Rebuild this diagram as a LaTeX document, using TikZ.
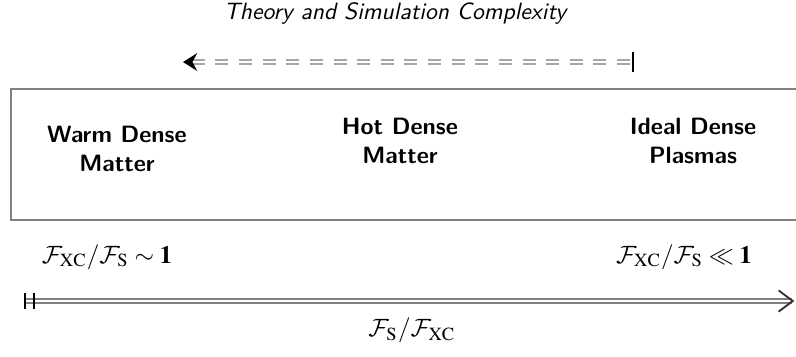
\documentclass[tikz,border=0pt]{standalone}
\usepackage{mathptmx}
\DeclareMathAlphabet{\mathcal}{OMS}{cmsy}{m}{n}
\usetikzlibrary{arrows.meta}

\begin{document}
\begin{tikzpicture}[>=stealth,
    regime/.style={font=\sffamily\bfseries, align=center},
    ratio/.style={inner sep=0pt, scale=1.06}]
    \useasboundingbox (0,0) rectangle (11.845,-5.312);

    \node [font=\sffamily\itshape] (title) at (5.878,-0.193) {Theory and Simulation Complexity};
    \coordinate (cplxlow) at (2.723,-0.923);
    \coordinate (cplxhigh) at (9.435,-0.923);
    \draw [gray!70, line width=0.8pt, double, double distance=0.9pt, dash pattern=on 5.5pt off 4.5pt,
        {Stealth[black, length=6pt, width=7.5pt, inset=2pt]}-{Bar[black, width=8.5pt]}] (cplxlow) -- (cplxhigh);

    \node [rectangle, draw=gray, line width=0.85pt, minimum width=11.73cm, minimum height=1.95cm, anchor=north west] (box) at (0.149,-1.310) {};
    \node [regime] (wdm) at (1.741,-2.217) {Warm Dense\\Matter};
    \node [regime] (hdm) at (5.952,-2.098) {Hot Dense\\Matter};
    \node [regime] (idp) at (10.313,-2.098) {Ideal Dense\\Plasmas};

    \node [ratio] (strong) at (1.592,-3.824) {$\mathcal{F}_{\mathrm{XC}}/\mathcal{F}_{\mathrm{S}} \sim \mathbf{1}$};
    \node [ratio] (weak) at (10.179,-3.824) {$\mathcal{F}_{\mathrm{XC}}/\mathcal{F}_{\mathrm{S}} \ll \mathbf{1}$};
    \coordinate (axisstart) at (0.253,-4.479);
    \coordinate (axisend) at (11.82,-4.479);
    \draw [gray, line width=0.8pt, double, double distance=0.9pt,
        {Bar[black, width=7pt, line width=0.8pt, sep=3pt]Bar[black, width=7pt, line width=0.8pt, sep=3pt]}-{Straight Barb[black!80, length=6pt, width=9pt]}] (axisstart) -- (axisend);
    \node [ratio] (axislabel) at (6.131,-4.911) {$\mathcal{F}_{\mathrm{S}}/\mathcal{F}_{\mathrm{XC}}$};
\end{tikzpicture}
\end{document}
